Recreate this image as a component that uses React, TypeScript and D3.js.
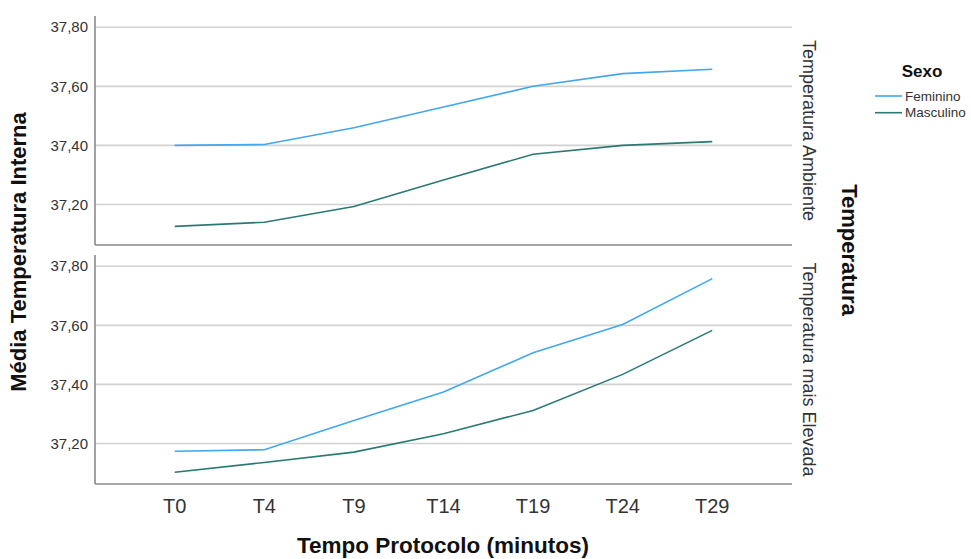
import React from "react";
import * as d3 from "d3";

const categories = ["T0", "T4", "T9", "T14", "T19", "T24", "T29"];
const panels = ["Temperatura Ambiente", "Temperatura mais Elevada"];
const seriesNames = ["Feminino", "Masculino"];
const seriesColors = ["#42a7ef", "#2b7a72"];

const ambFeminino = [37.4, 37.403, 37.46, 37.53, 37.6, 37.643, 37.658];
const ambMasculino = [37.126, 37.14, 37.193, 37.283, 37.37, 37.4, 37.413];
const elevFeminino = [37.174, 37.179, 37.278, 37.374, 37.507, 37.603, 37.758];
const elevMasculino = [37.103, 37.136, 37.171, 37.233, 37.312, 37.434, 37.583];

const yTicks = [37.2, 37.4, 37.6, 37.8];

const panelData = [
  [ambFeminino, ambMasculino],
  [elevFeminino, elevMasculino],
];

const W = 971;
const H = 559;
const left = 95;
const right = 792;
const panelBounds = [
  [16, 245],
  [255, 484],
];
const font = "'Liberation Sans', Arial, sans-serif";

export default function App() {
  const x = d3.scalePoint<string>().domain(categories).range([left, right]).padding(0.89);
  const fmt = (v: number) => v.toFixed(2).replace(".", ",");

  return (
    <svg
      width={W}
      height={H}
      style={{ position: "absolute", left: 0, top: 0, background: "#fff" }}
      fontFamily={font}
    >
      <rect x={0} y={0} width={W} height={H} fill="#fff" />
      {panelBounds.map(([top, bottom], pi) => {
        const y = d3.scaleLinear().domain([37.063, 37.838]).range([bottom, top]);
        const line = d3
          .line<number>()
          .x((_, i) => x(categories[i]) as number)
          .y((d) => y(d));
        return (
          <g key={pi}>
            {yTicks.map((t) => (
              <g key={t}>
                <line x1={left} x2={right} y1={y(t)} y2={y(t)} stroke="#d2d2d2" strokeWidth={1.6} />
                <text
                  x={88}
                  y={y(t)}
                  dy="0.35em"
                  textAnchor="end"
                  fontSize={15}
                  fill="#333"
                >
                  {fmt(t)}
                </text>
              </g>
            ))}
            <line x1={left} x2={left} y1={top} y2={bottom} stroke="#8a8a8a" strokeWidth={1.6} />
            <line x1={left} x2={right} y1={bottom} y2={bottom} stroke="#8a8a8a" strokeWidth={1.6} />
            {panelData[pi].map((vals, si) => (
              <path
                key={si}
                d={line(vals) as string}
                fill="none"
                stroke={seriesColors[si]}
                strokeWidth={1.6}
              />
            ))}
            <text
              transform={`translate(803,${(top + bottom) / 2}) rotate(90)`}
              textAnchor="middle"
              fontSize={18}
              fill="#333"
            >
              {panels[pi]}
            </text>
          </g>
        );
      })}
      {categories.map((c) => (
        <text key={c} x={x(c)} y={513} textAnchor="middle" fontSize={20} fill="#333">
          {c}
        </text>
      ))}
      <text x={443} y={553} textAnchor="middle" fontSize={22.5} fontWeight="bold" fill="#111">
        Tempo Protocolo (minutos)
      </text>
      <text
        transform={`translate(26,252) rotate(-90)`}
        textAnchor="middle"
        fontSize={22}
        fontWeight="bold"
        fill="#111"
      >
        Média Temperatura Interna
      </text>
      <text
        transform={`translate(842,250) rotate(90)`}
        textAnchor="middle"
        fontSize={22}
        fontWeight="bold"
        fill="#111"
      >
        Temperatura
      </text>
      <text x={922} y={77} textAnchor="middle" fontSize={17} fontWeight="bold" fill="#111">
        Sexo
      </text>
      {seriesNames.map((s, i) => (
        <g key={s}>
          <line x1={875} x2={902} y1={96 + i * 16.7} y2={96 + i * 16.7} stroke={seriesColors[i]} strokeWidth={1.6} />
          <text x={905} y={100.5 + i * 16.7} fontSize={13.5} fill="#333">
            {s}
          </text>
        </g>
      ))}
    </svg>
  );
}
